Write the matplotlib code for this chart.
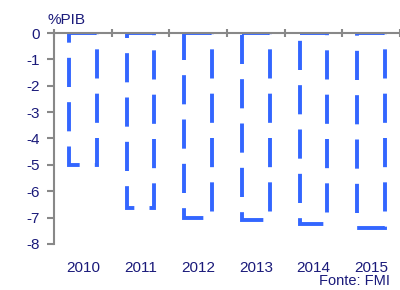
import matplotlib
matplotlib.use("Agg")
import matplotlib.pyplot as plt
import numpy as np

years = ["2010", "2011", "2012", "2013", "2014", "2015"]
values = [-5.0, -6.65, -7.0, -7.1, -7.25, -7.4]
yticks = [0, -1, -2, -3, -4, -5, -6, -7, -8]

plt.rcParams['font.family'] = ['Liberation Sans', 'DejaVu Sans']
navy = "#1a1a7a"
blue = "#3366ff"
gray = "#888888"

fig = plt.figure(figsize=(4.0, 2.9), dpi=100)
ax = fig.add_axes([0.135, 0.159, 0.865, 0.727])

x = np.arange(len(years))
ax.bar(x, values, width=0.48, facecolor="none", edgecolor=blue,
       linewidth=2.8, linestyle=(0, (7.5, 3.9)), zorder=2)

ax.set_xlim(-0.5, len(years) - 0.5)
ax.set_ylim(-8, 0)
ax.set_yticks(yticks)
ax.set_yticklabels([str(v) for v in yticks], color=navy, fontsize=11)

ax.set_xticks(x)
ax.set_xticklabels(years, color=navy, fontsize=11)
ax.set_xticks(np.arange(len(years) + 1) - 0.5, minor=True)
ax.tick_params(axis='x', which='major', length=0, pad=12, bottom=True, top=False)
ax.tick_params(axis='x', which='minor', length=6, direction='inout', width=1.5,
               color=gray, bottom=False, top=True)
ax.tick_params(axis='y', length=5, width=1.5, color=gray, pad=5)

for s in ['right', 'bottom']:
    ax.spines[s].set_visible(False)
for s in ['left', 'top']:
    ax.spines[s].set_color(gray)
    ax.spines[s].set_linewidth(1.5)
    ax.spines[s].set_zorder(3)

fig.text(47 / 400, 1 - 20 / 290, "%PIB", color=navy, fontsize=11, va='center', ha='left')
fig.text(319 / 400, 1 - 288 / 290, "Fonte: FMI", color=navy, fontsize=10.5, va='bottom', ha='left')

fig.savefig("out.png", dpi=100)
